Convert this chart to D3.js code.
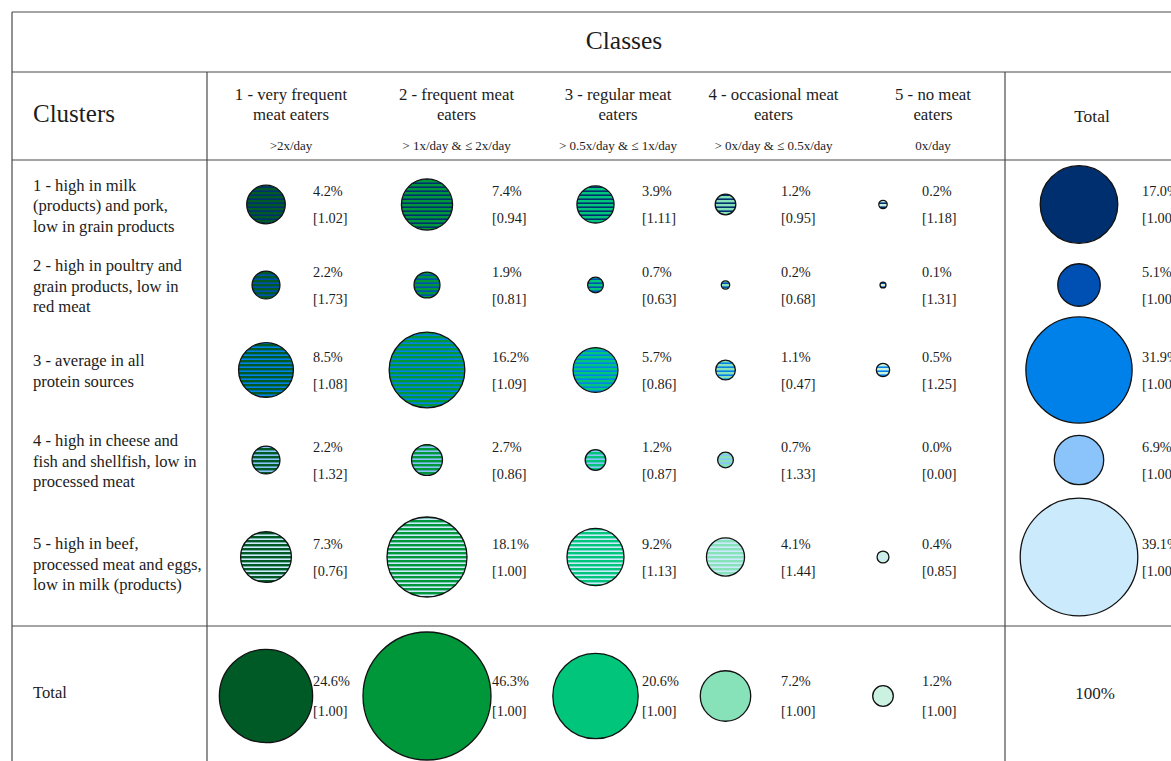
<!DOCTYPE html>
<html><head><meta charset="utf-8">
<script src="https://cdn.jsdelivr.net/npm/d3@7/dist/d3.min.js"></script>
<style>
html,body{margin:0;padding:0;background:#fff;overflow:hidden;}
text{font-family:"Liberation Serif","Times New Roman",serif;fill:#1c1c1c;}
</style></head>
<body>
<svg id="chart" width="1171" height="761"></svg>
<script>
// ---------- DATA ----------
const classes = ["1 - very frequent\nmeat eaters", "2 - frequent meat\neaters", "3 - regular meat\neaters", "4 - occasional meat\neaters", "5 - no meat\neaters"];
const classFrequency = [">2x/day", "> 1x/day & \u2264 2x/day", "> 0.5x/day & \u2264 1x/day", "> 0x/day & \u2264 0.5x/day", "0x/day"];
const clusters = [
  "1 - high in milk\n(products) and pork,\nlow in grain products",
  "2 - high in poultry and\ngrain products, low in\nred meat",
  "3 - average in all\nprotein sources",
  "4 - high in cheese and\nfish and shellfish, low in\nprocessed meat",
  "5 - high in beef,\nprocessed meat and eggs,\nlow in milk (products)"
];
const pctCluster1 = [4.2, 7.4, 3.9, 1.2, 0.2];
const pctCluster2 = [2.2, 1.9, 0.7, 0.2, 0.1];
const pctCluster3 = [8.5, 16.2, 5.7, 1.1, 0.5];
const pctCluster4 = [2.2, 2.7, 1.2, 0.7, 0.0];
const pctCluster5 = [7.3, 18.1, 9.2, 4.1, 0.4];
const idxCluster1 = [1.02, 0.94, 1.11, 0.95, 1.18];
const idxCluster2 = [1.73, 0.81, 0.63, 0.68, 1.31];
const idxCluster3 = [1.08, 1.09, 0.86, 0.47, 1.25];
const idxCluster4 = [1.32, 0.86, 0.87, 1.33, 0.00];
const idxCluster5 = [0.76, 1.00, 1.13, 1.44, 0.85];
const clusterTotals = [17.0, 5.1, 31.9, 6.9, 39.1];
const clusterTotalIdx = [1.00, 1.00, 1.00, 1.00, 1.00];
const classTotals = [24.6, 46.3, 20.6, 7.2, 1.2];
const classTotalIdx = [1.00, 1.00, 1.00, 1.00, 1.00];
const grandTotal = "100%";

// ---------- STYLE / LAYOUT ----------
const classColors = ["#005a26", "#00973a", "#00c57b", "#87e1b9", "#cbf1e0"];
const clusterColors = ["#002f6f", "#0050b4", "#0081ea", "#8ac4fa", "#cbebfc"];

const pctRows = [pctCluster1, pctCluster2, pctCluster3, pctCluster4, pctCluster5];
const idxRows = [idxCluster1, idxCluster2, idxCluster3, idxCluster4, idxCluster5];

const svg = d3.select("#chart");
const defs = svg.append("defs");

const x = d3.scaleOrdinal().domain(d3.range(5)).range([266, 427, 595.5, 725.5, 883]);
const xText = d3.scaleOrdinal().domain(d3.range(5)).range([313, 492, 642, 781, 922]);
const xHead = d3.scaleOrdinal().domain(d3.range(5)).range([291, 456.5, 618, 773.5, 933]);
const y = d3.scaleOrdinal().domain(d3.range(5)).range([204.5, 285, 370, 460, 557]);
const yTotalRow = 696;
const xTotalCol = 1079, xTotalText = 1142;
const r = d3.scaleSqrt().domain([0, 46.3]).range([0, 64]);

const fmtPct = d => d.toFixed(1) + "%";
const fmtIdx = d => "[" + d.toFixed(2) + "]";

// ---------- GRID LINES ----------
const lineColor = "#4a4a4a";
const grid = svg.append("g").attr("stroke", lineColor).attr("stroke-width", 1.2);
[[12, 12, 1171, 12], [12, 72, 1171, 72], [12, 160, 1171, 160], [12, 626, 1171, 626],
 [12, 12, 12, 761], [207, 72, 207, 761], [1005, 72, 1005, 761]].forEach(l => {
  grid.append("line").attr("x1", l[0]).attr("y1", l[1]).attr("x2", l[2]).attr("y2", l[3]);
});

// ---------- HEADERS ----------
svg.append("text").attr("x", 624).attr("y", 49).attr("text-anchor", "middle")
  .style("font-size", "25.5px").text("Classes");
svg.append("text").attr("x", 33).attr("y", 122).style("font-size", "25px").text("Clusters");
svg.append("text").attr("x", 1092).attr("y", 122).attr("text-anchor", "middle")
  .style("font-size", "17.5px").text("Total");

classes.forEach((c, i) => {
  const t = svg.append("text").attr("text-anchor", "middle").style("font-size", "16.8px");
  c.split("\n").forEach((line, k) => {
    t.append("tspan").attr("x", xHead(i)).attr("y", 99.5 + k * 20.5).text(line);
  });
  svg.append("text").attr("x", xHead(i)).attr("y", 150).attr("text-anchor", "middle")
    .style("font-size", "13px").text(classFrequency[i]);
});

clusters.forEach((c, j) => {
  const lines = c.split("\n");
  const t = svg.append("text").style("font-size", "16.6px");
  const y0 = y(j) + (j === 4 ? 7 : 1) - (lines.length - 1) * 20.5 / 2 + 5.5;
  lines.forEach((line, k) => {
    t.append("tspan").attr("x", 33).attr("y", y0 + k * 20.5).text(line);
  });
});
svg.append("text").attr("x", 33).attr("y", 698).style("font-size", "16.6px").text("Total");

// ---------- STRIPE PATTERNS ----------
clusters.forEach((c, j) => {
  classes.forEach((cl, i) => {
    const p = defs.append("pattern").attr("id", `p${j}_${i}`)
      .attr("patternUnits", "userSpaceOnUse").attr("width", 8).attr("height", 4);
    p.append("rect").attr("width", 8).attr("height", 4).attr("fill", clusterColors[j]);
    p.append("rect").attr("width", 8).attr("height", 2.4).attr("fill", classColors[i]);
  });
});

// ---------- CELL BUBBLES ----------
const cells = [];
pctRows.forEach((row, j) => row.forEach((v, i) => cells.push({ j, i, v, idx: idxRows[j][i] })));

svg.append("g").selectAll("circle").data(cells.filter(d => d.v > 0)).join("circle")
  .attr("cx", d => x(d.i)).attr("cy", d => y(d.j)).attr("r", d => r(d.v))
  .attr("fill", d => `url(#p${d.j}_${d.i})`).attr("stroke", "#111").attr("stroke-width", 1.3);

const cellText = svg.append("g").style("font-size", "14.3px");
cellText.selectAll("text.p").data(cells).join("text").attr("class", "p")
  .attr("x", d => xText(d.i)).attr("y", d => y(d.j) - 8.5).text(d => fmtPct(d.v));
cellText.selectAll("text.i").data(cells).join("text").attr("class", "i")
  .attr("x", d => xText(d.i)).attr("y", d => y(d.j) + 18.5).text(d => fmtIdx(d.idx));

// ---------- CLUSTER TOTALS (right column) ----------
svg.append("g").selectAll("circle").data(clusterTotals).join("circle")
  .attr("cx", xTotalCol).attr("cy", (d, j) => y(j)).attr("r", d => r(d))
  .attr("fill", (d, j) => clusterColors[j]).attr("stroke", "#111").attr("stroke-width", 1.3);
const ct = svg.append("g").style("font-size", "14.3px");
ct.selectAll("text.p").data(clusterTotals).join("text").attr("class", "p")
  .attr("x", xTotalText).attr("y", (d, j) => y(j) - 8.5).text(d => fmtPct(d));
ct.selectAll("text.i").data(clusterTotalIdx).join("text").attr("class", "i")
  .attr("x", xTotalText).attr("y", (d, j) => y(j) + 18.5).text(d => fmtIdx(d));

// ---------- CLASS TOTALS (bottom row) ----------
svg.append("g").selectAll("circle").data(classTotals).join("circle")
  .attr("cx", (d, i) => x(i)).attr("cy", yTotalRow).attr("r", d => r(d))
  .attr("fill", (d, i) => classColors[i]).attr("stroke", "#111").attr("stroke-width", 1.3);
const rt = svg.append("g").style("font-size", "14.3px");
rt.selectAll("text.p").data(classTotals).join("text").attr("class", "p")
  .attr("x", (d, i) => xText(i)).attr("y", yTotalRow - 10).text(d => fmtPct(d));
rt.selectAll("text.i").data(classTotalIdx).join("text").attr("class", "i")
  .attr("x", (d, i) => xText(i)).attr("y", yTotalRow + 20).text(d => fmtIdx(d));

svg.append("text").attr("x", 1095).attr("y", 699).attr("text-anchor", "middle")
  .style("font-size", "17px").text(grandTotal);
</script>
</body></html>
